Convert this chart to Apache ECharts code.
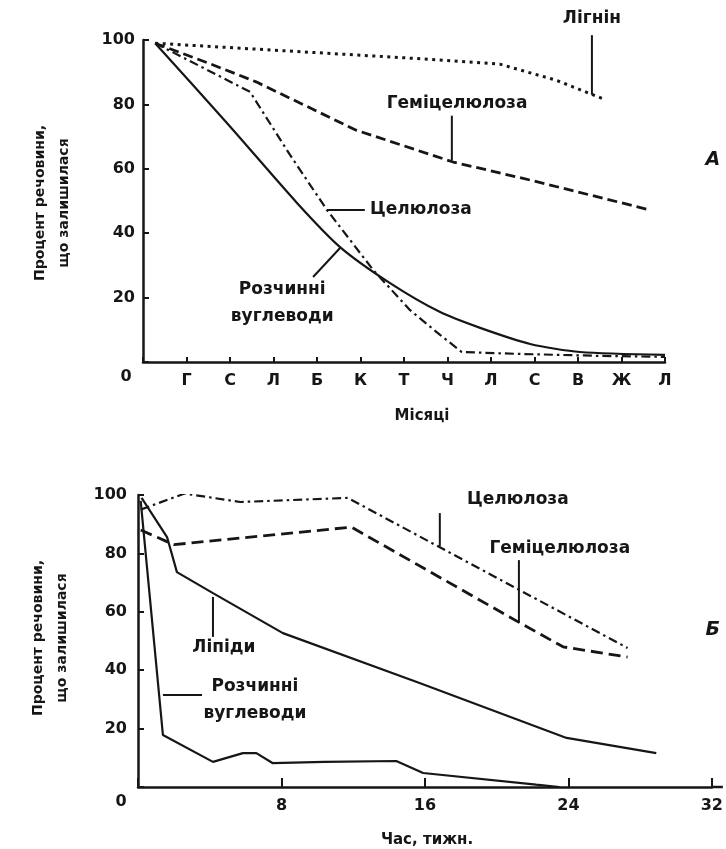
<!DOCTYPE html>
<html>
<head>
<meta charset="utf-8">
<script src="https://cdn.jsdelivr.net/npm/echarts@6/dist/echarts.min.js"></script>
<style>
  html, body { margin: 0; padding: 0; background: #ffffff; }
  #chart { width: 726px; height: 849px; }
</style>
</head>
<body>
<div id="chart"></div>
<script>
// Tick labels
const monthLabels = ['Г', 'С', 'Л', 'Б', 'К', 'Т', 'Ч', 'Л', 'С', 'В', 'Ж', 'Л'];

// Panel А: share of matter remaining (%) over months
const ligninMonths = [0.28, 6.6, 8.2, 9.5, 10.62];
const ligninValues = [99, 94, 92.5, 87.5, 81.5];

const hemiMonths = [0.28, 1.47, 2.6, 4.9, 7.13, 8.9, 11.66];
const hemiValues = [99, 93, 87, 72, 62.1, 56.5, 47.2];

const celluloseMonths = [0.28, 2.46, 3.38, 4.23, 5.29, 6.14, 6.83, 7.33, 8.67, 10.51, 12];
const celluloseValues = [99, 83.9, 64.3, 47.2, 28.6, 16.1, 8.4, 3.1, 2.5, 1.9, 1.6];

const sugarMonths = [0.28, 1.95, 3.54, 4.53, 5.68, 6.83, 7.75, 8.9, 10.05, 12];
const sugarValues = [99, 73.9, 49.4, 35.7, 24.5, 15.5, 10.6, 5.6, 3.1, 2.2];

// Panel Б: share of matter remaining (%) over weeks
const celluloseWeeks = [0.15, 2.6, 5.7, 11.7, 27.3];
const celluloseWeekValues = [95, 100.5, 97.6, 99, 47.6];

const hemiWeeks = [0.15, 2.0, 11.9, 21.3, 23.7, 27.3];
const hemiWeekValues = [88, 83, 89, 56.2, 48, 44.5];

const lipidWeeks = [0.2, 1.62, 2.17, 4.18, 8.08, 15.7, 23.9, 28.9];
const lipidWeekValues = [99, 85.6, 73.6, 66.4, 52.7, 35.6, 16.8, 11.6];

const sugarWeeks = [0.15, 1.39, 4.18, 5.85, 6.6, 7.5, 10.4, 14.4, 15.9, 22.2, 23.5];
const sugarWeekValues = [98, 17.8, 8.6, 11.6, 11.6, 8.2, 8.6, 8.9, 4.8, 0.8, 0];

const zip = (xs, ys) => xs.map((x, i) => [x, ys[i]]);

const INK = '#161616';
const FONT = 'DejaVu Sans';

const chart = echarts.init(document.getElementById('chart'), null, { renderer: 'canvas' });

function lineSeries(grid, data, type, width, smooth) {
  return {
    type: 'line',
    xAxisIndex: grid,
    yAxisIndex: grid,
    data: data,
    showSymbol: false,
    symbol: 'none',
    smooth: smooth || false,
    silent: true,
    animation: false,
    lineStyle: { color: INK, width: width, type: type, cap: 'butt' }
  };
}

function yAxisFor(grid, margin) {
  return {
    gridIndex: grid, type: 'value', min: 0, max: 100, interval: 20,
    axisLine: { show: true, lineStyle: { color: INK, width: 2.5 } },
    axisTick: { show: true, inside: true, length: 6, lineStyle: { color: INK, width: 2 } },
    splitLine: { show: false },
    axisLabel: {
      color: INK, fontFamily: FONT, fontWeight: 'bold', fontSize: 16, margin: margin,
      formatter: v => (v === 0 ? '' : String(v))
    }
  };
}

const option = {
  backgroundColor: '#ffffff',
  animation: false,
  grid: [
    { left: 143, right: 61, top: 40, bottom: 487 },
    { left: 138, right: 14, top: 495, bottom: 62 }
  ],
  xAxis: [
    {
      gridIndex: 0, type: 'value', min: 0, max: 12, interval: 1,
      axisLine: { show: true, lineStyle: { color: INK, width: 2.5 } },
      axisTick: { show: true, inside: true, length: 5, lineStyle: { color: INK, width: 2 } },
      splitLine: { show: false },
      axisLabel: {
        color: INK, fontFamily: FONT, fontWeight: 'bold', fontSize: 16, margin: 11,
        formatter: v => monthLabels[v - 1] || ''
      }
    },
    {
      gridIndex: 1, type: 'value', min: 0, max: 32, interval: 8,
      axisLine: { show: true, lineStyle: { color: INK, width: 2.5 } },
      axisTick: { show: true, inside: true, length: 9, lineStyle: { color: INK, width: 2 } },
      splitLine: { show: false },
      axisLabel: {
        color: INK, fontFamily: FONT, fontWeight: 'bold', fontSize: 16, margin: 11,
        formatter: v => (v === 0 ? '' : String(v))
      }
    }
  ],
  yAxis: [yAxisFor(0, 8), yAxisFor(1, 11)],
  series: [
    lineSeries(0, zip(ligninMonths, ligninValues), [3, 4.5], 3),
    lineSeries(0, zip(hemiMonths, hemiValues), [10, 5], 2.8),
    lineSeries(0, zip(celluloseMonths, celluloseValues), [9, 4, 2.5, 4], 2.2),
    lineSeries(0, zip(sugarMonths, sugarValues), 'solid', 2.2, 0.25),
    lineSeries(1, zip(celluloseWeeks, celluloseWeekValues), [9, 4, 2.5, 4], 2.2),
    lineSeries(1, zip(hemiWeeks, hemiWeekValues), [12, 6], 2.8),
    lineSeries(1, zip(lipidWeeks, lipidWeekValues), 'solid', 2.2),
    lineSeries(1, zip(sugarWeeks, sugarWeekValues), 'solid', 2.2)
  ]
};

chart.setOption(option);

// Series captions with leader lines, anchored in data units of each panel
const notes = [
  { grid: 0, text: 'Лігнін', at: [10.32, 106.8], leader: [[10.32, 101.5], [10.32, 83]] },
  { grid: 0, text: 'Геміцелюлоза', at: [7.22, 80.4], leader: [[7.1, 76.5], [7.1, 62.6]] },
  { grid: 0, text: 'Целюлоза', at: [5.22, 47.2], align: 'left', leader: [[4.23, 47.2], [5.1, 47.2]] },
  { grid: 0, text: 'Розчинні\nвуглеводи', at: [3.2, 18.2], leader: [[4.53, 35.4], [3.91, 26.4]] },
  { grid: 1, text: 'Целюлоза', at: [21.18, 98.3], leader: [[16.83, 93.8], [16.83, 82.5]] },
  { grid: 1, text: 'Геміцелюлоза', at: [23.52, 81.8], leader: [[21.24, 77.7], [21.24, 56.2]] },
  { grid: 1, text: 'Ліпіди', at: [4.79, 47.9], leader: [[4.18, 65.1], [4.18, 51.4]] },
  { grid: 1, text: 'Розчинні\nвуглеводи', at: [6.52, 29.8], leader: [[1.39, 31.5], [3.57, 31.5]] }
];

const panelMarks = [
  { grid: 0, text: 'А', at: [13.1, 62.7] },
  { grid: 1, text: 'Б', at: [32.05, 53.8] }
];

const toPx = (grid, p) => chart.convertToPixel({ gridIndex: grid }, p);

const graphics = [];
notes.forEach(n => {
  const p = toPx(n.grid, n.at);
  graphics.push({
    type: 'text', x: p[0], y: p[1], silent: true,
    style: {
      text: n.text, fill: INK, font: 'bold 17px "' + FONT + '"',
      textAlign: n.align || 'center', textVerticalAlign: 'middle', lineHeight: 27
    }
  });
  const a = toPx(n.grid, n.leader[0]);
  const b = toPx(n.grid, n.leader[1]);
  graphics.push({
    type: 'line', silent: true,
    shape: { x1: a[0], y1: a[1], x2: b[0], y2: b[1] },
    style: { stroke: INK, lineWidth: 2 }
  });
});

panelMarks.forEach(m => {
  const p = toPx(m.grid, m.at);
  graphics.push({
    type: 'text', x: p[0], y: p[1], silent: true,
    style: {
      text: m.text, fill: INK, font: 'italic bold 19px "' + FONT + '"',
      textAlign: 'center', textVerticalAlign: 'middle'
    }
  });
});

// Shared origin label of each panel
[0, 1].forEach(g => {
  const o = toPx(g, [0, 0]);
  graphics.push({
    type: 'text', x: o[0] - 17, y: o[1] + 15, silent: true,
    style: { text: '0', fill: INK, font: 'bold 16px "' + FONT + '"', textAlign: 'center', textVerticalAlign: 'middle' }
  });
});

// The week axis runs a little past its last tick
const axisEnd = toPx(1, [32, 0]);
graphics.push({
  type: 'line', silent: true,
  shape: { x1: axisEnd[0], y1: axisEnd[1], x2: axisEnd[0] + 11, y2: axisEnd[1] },
  style: { stroke: INK, lineWidth: 2.5 }
});

// Axis titles
const yTitle = 'Процент речовини,\nщо залишилася';
[[52, 203], [50, 638]].forEach(pos => {
  graphics.push({
    type: 'text', x: pos[0], y: pos[1], rotation: Math.PI / 2, silent: true,
    style: {
      text: yTitle, fill: INK, font: 'bold 14px "' + FONT + '"',
      textAlign: 'center', textVerticalAlign: 'middle', lineHeight: 24
    }
  });
});
graphics.push({
  type: 'text', x: 422, y: 416, silent: true,
  style: { text: 'Місяці', fill: INK, font: 'bold 15px "' + FONT + '"', textAlign: 'center', textVerticalAlign: 'middle' }
});
graphics.push({
  type: 'text', x: 427, y: 840, silent: true,
  style: { text: 'Час, тижн.', fill: INK, font: 'bold 15px "' + FONT + '"', textAlign: 'center', textVerticalAlign: 'middle' }
});

chart.setOption({ graphic: graphics });
</script>
</body>
</html>
